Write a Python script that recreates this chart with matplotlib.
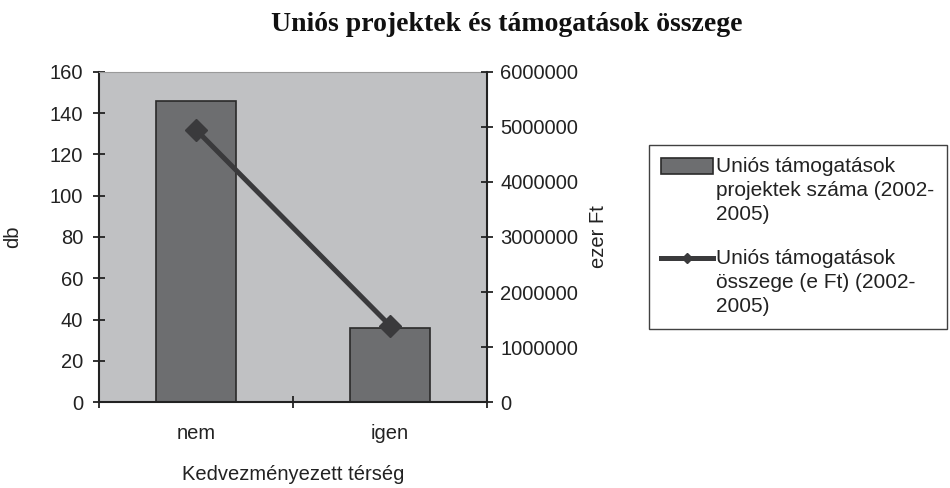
import matplotlib
matplotlib.use("Agg")
import matplotlib.pyplot as plt
from matplotlib.ticker import FixedLocator
from matplotlib.legend_handler import HandlerPatch, HandlerLine2D
from matplotlib.transforms import Affine2D

categories = ["nem", "igen"]
projects = [146, 36]
amounts = [4950000, 1390000]
left_ticks = [0, 20, 40, 60, 80, 100, 120, 140, 160]
right_ticks = [0, 1000000, 2000000, 3000000, 4000000, 5000000, 6000000]

title = "Uniós projektek és támogatások összege"
bar_label = "Uniós támogatások\nprojektek száma (2002-\n2005)"
line_label = "Uniós támogatások\nösszege (e Ft) (2002-\n2005)"

plt.rcParams['font.family'] = ['Liberation Sans', 'DejaVu Sans']
FS = 14.5
TXT = "#222222"

fig = plt.figure(figsize=(9.5, 4.88), dpi=100)
ax = fig.add_axes([0.1042, 0.1762, 0.4084, 0.6763])
ax.set_facecolor("#c0c1c3")

x = [i + 0.5 for i in range(len(categories))]
bars = ax.bar(x, projects, width=0.41, color="#6d6e70", edgecolor="#2a2a2a",
              linewidth=1.2, zorder=2)
ax.set_xlim(0, len(categories))
ax.set_ylim(0, 160)
ax.set_yticks(left_ticks)
ax.set_xticks(x)
ax.set_xticklabels(categories, fontsize=FS, color=TXT)
ax.xaxis.set_minor_locator(FixedLocator(list(range(len(categories) + 1))))
ax.tick_params(axis='x', which='major', length=0, pad=16)
ax.tick_params(axis='x', which='minor', direction='inout', length=9, width=1.3, color=TXT)
ax.tick_params(axis='y', direction='inout', length=9, width=1.3, color=TXT,
               labelsize=FS, labelcolor=TXT, pad=7)
ax.set_ylabel("db", fontsize=FS, color=TXT, labelpad=20)
ax.set_xlabel("Kedvezményezett térség", fontsize=FS, color=TXT, labelpad=16)
for s in ["left", "bottom"]:
    ax.spines[s].set_color(TXT)
    ax.spines[s].set_linewidth(1.5)
ax.spines["top"].set_color("#9a9a9a")
ax.spines["top"].set_linewidth(0.8)
ax.spines["right"].set_visible(False)

ax2 = ax.twinx()
line, = ax2.plot(x, amounts, color="#3a3a3c", linewidth=3.6, marker="D",
                 markersize=11, markeredgecolor="#3a3a3c", zorder=3)
ax2.set_ylim(0, 6000000)
ax2.set_yticks(right_ticks)
ax2.set_yticklabels([str(v) for v in right_ticks])
ax2.tick_params(axis='y', direction='inout', length=9, width=1.3, color=TXT,
                labelsize=FS, labelcolor=TXT, pad=5)
ax2.set_ylabel("ezer Ft", fontsize=FS, color=TXT, rotation=90, labelpad=8)
ax2.spines["right"].set_color(TXT)
ax2.spines["right"].set_linewidth(1.5)
for s in ["left", "top", "bottom"]:
    ax2.spines[s].set_visible(False)

fig.suptitle(title, x=0.533, y=0.975, fontsize=20, fontweight="bold",
             family="Liberation Serif", color="#111111")

LFS = 15
SHIFT = 18  # points: move handle up to the first text line


class TopPatch(HandlerPatch):
    def create_artists(self, legend, orig_handle, xdescent, ydescent, width,
                       height, fontsize, trans):
        return super().create_artists(legend, orig_handle, xdescent, ydescent,
                                      width, height, fontsize,
                                      Affine2D().translate(0, SHIFT) + trans)


class TopLine(HandlerLine2D):
    def create_artists(self, legend, orig_handle, xdescent, ydescent, width,
                       height, fontsize, trans):
        arts = super().create_artists(legend, orig_handle, xdescent, ydescent,
                                      width, height, fontsize,
                                      Affine2D().translate(0, SHIFT) + trans)
        for a in arts:
            a.set_markersize(5)
        return arts


bar_handle = bars.patches[0]
leg = fig.legend([bar_handle, line], [bar_label, line_label], loc="upper right",
                 bbox_to_anchor=(947 / 950, 1 - 145 / 488), fontsize=LFS,
                 frameon=True, fancybox=False, edgecolor="#111111",
                 handlelength=2.5, handleheight=0.8, handletextpad=0.15,
                 borderpad=0.6, borderaxespad=0, labelspacing=1.2,
                 labelcolor=TXT,
                 handler_map={bar_handle: TopPatch(), line: TopLine()})
for t in leg.get_texts():
    t.set_linespacing(1.33)
leg.get_frame().set_linewidth(1.0)

fig.savefig("out.png", dpi=100)
